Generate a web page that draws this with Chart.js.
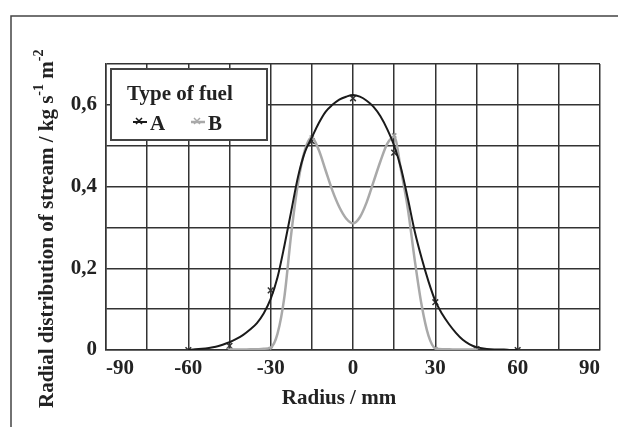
<!DOCTYPE html>
<html lang="en">
<head>
    <meta charset="UTF-8">
    <title>Radial distribution of stream</title>
    <script src="https://cdn.jsdelivr.net/npm/chart.js"></script>
    <style>
        html, body { margin: 0; padding: 0; background: #fff; }
        #wrap { width: 618px; height: 427px; }
    </style>
</head>
<body>
<div id="wrap"><canvas id="streamChart" width="618" height="427"></canvas></div>
<script>
// curve A (black), every 2.5 mm
var radiusA = [-60, -57.5, -55, -52.5, -50, -47.5, -45, -42.5, -40, -37.5, -35, -32.5, -30, -27.5, -25, -22.5, -20, -17.5, -15, -12.5, -10, -7.5, -5, -2.5, 0,
               2.5, 5, 7.5, 10, 12.5, 15, 17.5, 20, 22.5, 25, 27.5, 30, 32.5, 35, 37.5, 40, 42.5, 45, 47.5, 50, 52.5, 55, 57.5, 60];
var curveA = [0, 0.002, 0.003, 0.005, 0.008, 0.013, 0.019, 0.027, 0.037, 0.05, 0.066, 0.09, 0.125, 0.178, 0.255, 0.34, 0.425, 0.485, 0.52, 0.555, 0.583, 0.6, 0.613, 0.62, 0.624,
              0.62, 0.61, 0.595, 0.572, 0.54, 0.5, 0.445, 0.37, 0.29, 0.225, 0.168, 0.12, 0.088, 0.063, 0.042, 0.025, 0.014, 0.007, 0.004, 0.002, 0.001, 0.001, 0, 0];

// curve B (grey)
var radiusB = [-45, -42.5, -40, -37.5, -35, -32.5, -30, -27.5, -25, -22.5, -20, -17.5, -15, -12.5, -10, -7.5, -5, -2.5, 0,
               2.5, 5, 7.5, 10, 12.5, 15, 17.5, 20, 22.5, 25, 27.5, 30, 32.5, 35, 37.5, 40, 42.5, 45];
var curveB = [0.001, 0.001, 0.001, 0.002, 0.002, 0.003, 0.006, 0.04, 0.13, 0.285, 0.41, 0.49, 0.52, 0.49, 0.44, 0.39, 0.35, 0.322, 0.31,
              0.325, 0.362, 0.412, 0.462, 0.505, 0.522, 0.44, 0.345, 0.22, 0.11, 0.035, 0.004, 0.002, 0.002, 0.001, 0.001, 0.001, 0.001];

// measured points
var pointsAx = [-60, -45, -30, -15, 0, 15, 30, 45, 60];
var pointsAy = [0, 0.01, 0.146, 0.511, 0.616, 0.483, 0.117, 0.002, 0];
var pointsBx = [-45, -30, -15, 15, 30, 45];
var pointsBy = [0, 0.002, 0.52, 0.525, 0.002, 0];

var fuelLabels = ['A', 'B'];
var xTicks = [-90, -60, -30, 0, 30, 60, 90];
var yTicks = [0, 0.2, 0.4, 0.6];

var black = '#1a1a1a';
var grey = '#a9a9a9';
var serif = '"Liberation Serif", "Times New Roman", serif';

function xy(xs, ys) {
    return xs.map(function (x, i) { return { x: x, y: ys[i] }; });
}

// frame, legend box and axis titles
var decor = {
    id: 'decor',
    beforeDraw: function (chart) {
        var c = chart.ctx;
        c.save();
        c.fillStyle = '#fff';
        c.fillRect(0, 0, chart.width, chart.height);
        c.strokeStyle = '#444';
        c.lineWidth = 1.5;
        c.beginPath();
        c.moveTo(11, 427);
        c.lineTo(11, 16);
        c.lineTo(618, 16);
        c.stroke();
        c.restore();
    },
    afterDraw: function (chart) {
        var c = chart.ctx;
        c.save();
        // legend
        c.fillStyle = '#fff';
        c.fillRect(111, 69, 156, 71);
        c.strokeStyle = '#444';
        c.lineWidth = 2;
        c.strokeRect(111, 69, 156, 71);
        c.fillStyle = '#222';
        c.font = 'bold 21px ' + serif;
        c.textBaseline = 'alphabetic';
        c.textAlign = 'left';
        c.fillText('Type of fuel', 127, 100);
        var items = [{ x: 133, color: black, w: 2 }, { x: 191, color: grey, w: 2.5 }];
        items.forEach(function (it, i) {
            c.strokeStyle = it.color;
            c.lineWidth = it.w;
            c.beginPath();
            c.moveTo(it.x, 122);
            c.lineTo(it.x + 14, 122);
            c.stroke();
            c.lineWidth = 1.5;
            c.beginPath();
            c.moveTo(it.x + 3, 118); c.lineTo(it.x + 9, 124);
            c.moveTo(it.x + 9, 118); c.lineTo(it.x + 3, 124);
            c.stroke();
            c.fillStyle = '#222';
            c.fillText(fuelLabels[i], it.x + 17, 130);
        });

        // x title
        c.textAlign = 'center';
        c.textBaseline = 'middle';
        c.fillText('Radius / mm', 339, 399);

        // y title, rotated, with superscripts
        c.translate(53, 408);
        c.rotate(-Math.PI / 2);
        c.textAlign = 'left';
        c.textBaseline = 'alphabetic';
        var parts = [
            ['Radial distribution of stream / kg s', 0],
            ['-1', 1],
            [' m', 0],
            ['-2', 1]
        ];
        var px = 0;
        parts.forEach(function (p) {
            if (p[1]) {
                c.font = 'bold 14px ' + serif;
                c.fillText(p[0], px, -10);
            } else {
                c.font = 'bold 21px ' + serif;
                c.fillText(p[0], px, 0);
            }
            px += c.measureText(p[0]).width;
        });
        c.restore();
    }
};

new Chart(document.getElementById('streamChart'), {
    type: 'scatter',
    data: {
        datasets: [
            {
                label: fuelLabels[0],
                data: xy(radiusA, curveA),
                showLine: true,
                borderColor: black,
                borderWidth: 2,
                pointRadius: 0,
                tension: 0.4,
                cubicInterpolationMode: 'monotone'
            },
            {
                label: fuelLabels[1],
                data: xy(radiusB, curveB),
                showLine: true,
                borderColor: grey,
                borderWidth: 2.5,
                pointRadius: 0,
                tension: 0.4,
                cubicInterpolationMode: 'monotone'
            },
            {
                label: 'B points',
                data: xy(pointsBx, pointsBy),
                pointStyle: 'crossRot',
                pointRadius: 3,
                borderColor: '#999',
                borderWidth: 1.5
            },
            {
                label: 'A points',
                data: xy(pointsAx, pointsAy),
                pointStyle: 'crossRot',
                pointRadius: 4,
                borderColor: '#333',
                borderWidth: 1.5
            }
        ]
    },
    options: {
        responsive: false,
        animation: false,
        layout: { padding: { left: 0, right: 18, top: 64, bottom: 0 } },
        plugins: {
            legend: { display: false },
            tooltip: { enabled: false }
        },
        scales: {
            x: {
                type: 'linear',
                min: -90,
                max: 90,
                afterFit: function (s) { s.height = 77; },
                afterBuildTicks: function (s) {
                    var t = [];
                    for (var v = -90; v <= 90; v += 15) t.push({ value: v });
                    s.ticks = t;
                },
                ticks: {
                    autoSkip: false,
                    maxRotation: 0,
                    align: 'inner',
                    padding: 6,
                    color: '#222',
                    font: { family: serif, size: 21, weight: 'bold' },
                    callback: function (v) { return xTicks.indexOf(v) >= 0 ? String(v) : ''; }
                },
                grid: { color: '#333', lineWidth: 1.5, drawTicks: false },
                border: { color: '#333', width: 1.5 }
            },
            y: {
                min: 0,
                max: 0.7,
                afterFit: function (s) { s.width = 106; },
                afterBuildTicks: function (s) {
                    var t = [];
                    for (var i = 0; i <= 7; i++) t.push({ value: i / 10 });
                    s.ticks = t;
                },
                ticks: {
                    padding: 9,
                    color: '#222',
                    font: { family: serif, size: 21, weight: 'bold' },
                    callback: function (v) {
                        var r = Math.round(v * 10) / 10;
                        return yTicks.indexOf(r) >= 0 ? String(r).replace('.', ',') : '';
                    }
                },
                grid: { color: '#333', lineWidth: 1.5, drawTicks: false },
                border: { color: '#333', width: 1.5 }
            }
        }
    },
    plugins: [decor]
});
</script>
</body>
</html>
